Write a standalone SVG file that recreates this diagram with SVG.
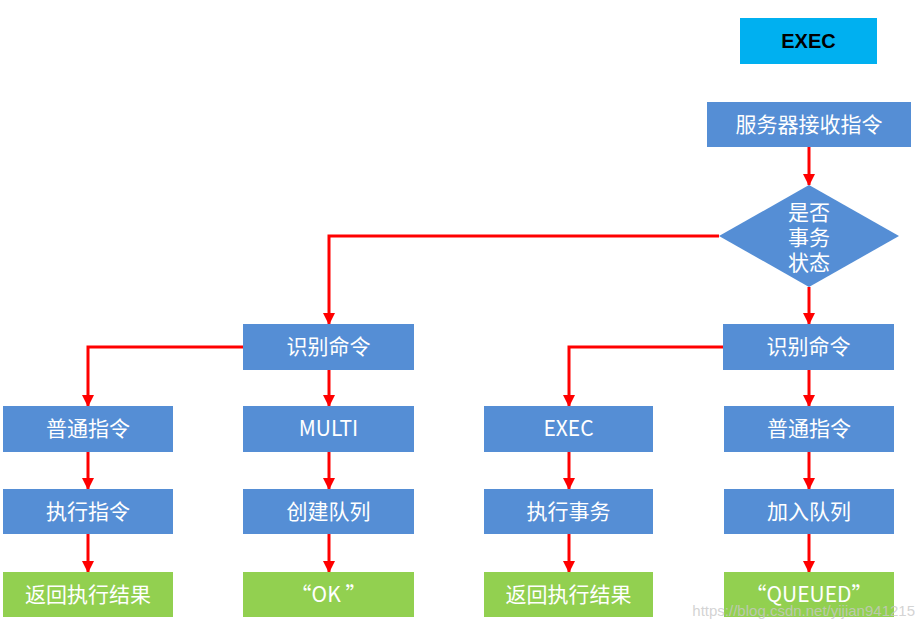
<svg xmlns="http://www.w3.org/2000/svg" width="924" height="631" viewBox="0 0 924 631">
<style>
.b{fill:#558ED5}
.g{fill:#92D050}
.t{font-family:"Noto Sans CJK SC","Microsoft YaHei",sans-serif;font-size:21px;fill:#fff;text-anchor:middle}
.c{fill:none;stroke:#FF0000;stroke-width:3}
</style>
<defs>
<marker id="ah" markerWidth="12" markerHeight="12" viewBox="0 0 12 12" refX="11" refY="6" orient="auto" markerUnits="userSpaceOnUse">
<path d="M0,0 L12,6 L0,12 Z" fill="#FF0000"/>
</marker>
</defs>
<rect width="924" height="631" fill="#fff"/>
<g id="connectors">
<path class="c" d="M809,147 V185" marker-end="url(#ah)"/>
<path class="c" d="M809,287 V324" marker-end="url(#ah)"/>
<path class="c" d="M719,236 H329 V324" marker-end="url(#ah)"/>
<path class="c" d="M243,347 H88 V406" marker-end="url(#ah)"/>
<path class="c" d="M329,370 V406" marker-end="url(#ah)"/>
<path class="c" d="M723,347 H569 V406" marker-end="url(#ah)"/>
<path class="c" d="M809,370 V406" marker-end="url(#ah)"/>
<path class="c" d="M88,452 V489" marker-end="url(#ah)"/>
<path class="c" d="M329,452 V489" marker-end="url(#ah)"/>
<path class="c" d="M569,452 V489" marker-end="url(#ah)"/>
<path class="c" d="M809,452 V489" marker-end="url(#ah)"/>
<path class="c" d="M88,534 V572" marker-end="url(#ah)"/>
<path class="c" d="M329,534 V572" marker-end="url(#ah)"/>
<path class="c" d="M569,534 V572" marker-end="url(#ah)"/>
<path class="c" d="M809,534 V572" marker-end="url(#ah)"/>
</g>
<g id="title"><rect x="740" y="18" width="137" height="46" fill="#00B0F0"/><text x="808.5" y="48" style="font-family:'Liberation Sans',Arial,sans-serif;font-size:20px;font-weight:bold;fill:#000;text-anchor:middle">EXEC</text></g>
<g id="recv"><rect class="b" x="707" y="102" width="204" height="45"/><text class="t" x="809" y="132">服务器接收指令</text></g>
<g id="decision"><path class="b" d="M809,185 L899,236 L809,287 L719,236 Z"/><text class="t" x="809" y="220">是否</text><text class="t" x="809" y="245">事务</text><text class="t" x="809" y="270">状态</text></g>
<g id="ident-l"><rect class="b" x="243" y="324" width="171" height="46"/><text class="t" x="328.5" y="354">识别命令</text></g>
<g id="ident-r"><rect class="b" x="723" y="324" width="171" height="46"/><text class="t" x="808.5" y="354">识别命令</text></g>
<g id="normal-l"><rect class="b" x="3" y="406" width="170" height="46"/><text class="t" x="88" y="436">普通指令</text></g>
<g id="multi"><rect class="b" x="243" y="406" width="171" height="46"/><text class="t" x="328.5" y="436">MULTI</text></g>
<g id="exec"><rect class="b" x="484" y="406" width="169" height="46"/><text class="t" x="568.5" y="436">EXEC</text></g>
<g id="normal-r"><rect class="b" x="724" y="406" width="170" height="46"/><text class="t" x="809" y="436">普通指令</text></g>
<g id="run-cmd"><rect class="b" x="3" y="489" width="170" height="45"/><text class="t" x="88" y="519">执行指令</text></g>
<g id="create-q"><rect class="b" x="243" y="489" width="171" height="45"/><text class="t" x="328.5" y="519">创建队列</text></g>
<g id="run-tx"><rect class="b" x="484" y="489" width="169" height="45"/><text class="t" x="568.5" y="519">执行事务</text></g>
<g id="enqueue"><rect class="b" x="724" y="489" width="170" height="45"/><text class="t" x="809" y="519">加入队列</text></g>
<g id="ret-l"><rect class="g" x="3" y="572" width="170" height="45"/><text class="t" x="88" y="602">返回执行结果</text></g>
<g id="ok"><rect class="g" x="243" y="572" width="171" height="45"/><text class="t" x="328.5" y="602">“OK ”</text></g>
<g id="ret-r"><rect class="g" x="484" y="572" width="169" height="45"/><text class="t" x="568.5" y="602">返回执行结果</text></g>
<g id="queued"><rect class="g" x="724" y="572" width="170" height="45"/><text class="t" x="809" y="602">“QUEUED”</text></g>
<text x="915" y="616" style="font-family:'Liberation Sans',Arial,sans-serif;font-size:15px;fill:#c8c8c8;fill-opacity:0.8;text-anchor:end">https://blog.csdn.net/yijian941215</text>
</svg>
